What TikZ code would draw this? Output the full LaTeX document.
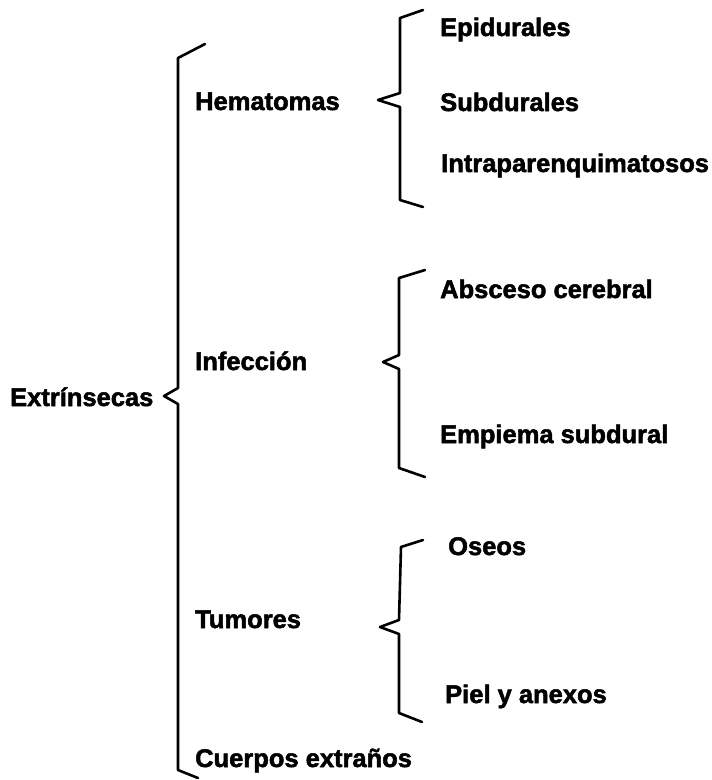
\documentclass[tikz,border=0pt]{standalone}
\usepackage{fontspec}
\setmainfont{Liberation Sans}[BoldFeatures={FakeBold=2}]
\usepackage{tikz}
\usetikzlibrary{positioning,calc}

\tikzset{
  label/.style={anchor=base west, inner sep=0pt, font=\fontsize{25.5}{30}\selectfont\bfseries},
  brace/.style={line width=2.6pt, line join=round, line cap=round}
}

\begin{document}
\begin{tikzpicture}[x=1pt, y=-1pt]
  \useasboundingbox (0,0) rectangle (712,780);

  % Main brace
  \node[label] (root) at (10, 406) {Extrínsecas};
  \draw[brace] (205, 44) -- (178, 58) -- (178, 388) -- (164, 396) -- (178, 404) -- (178, 770) -- (198, 778);

  % First level
  \node[label] (hem) at (195, 110) {Hematomas};
  \node[label] (inf) at (195, 370) {Infección};
  \node[label] (tum) at (195, 628) {Tumores};
  \node[label] (cue) at (195, 767) {Cuerpos extraños};

  % Hematomas
  \draw[brace] (423, 10) -- (400, 18) -- (400, 93) -- (378, 100) -- (400, 107) -- (400, 200) -- (423, 207);
  \node[label] (epi) at (440, 36) {Epidurales};
  \node[label] (sub) at (440, 111) {Subdurales};
  \node[label] (intra) at (441, 172) {Intraparenquimatosos};

  % Infeccion
  \draw[brace] (425, 270) -- (399, 278) -- (399, 355) -- (383, 362) -- (399, 369) -- (399, 468) -- (425, 477);
  \node[label] (abs) at (440, 298) {Absceso cerebral};
  \node[label] (emp) at (440, 443) {Empiema subdural};

  % Tumores
  \draw[brace] (423, 540) -- (401, 547) -- (399, 620) -- (380, 627) -- (399, 634) -- (399, 713) -- (422, 722);
  \node[label] (ose) at (448, 555) {Oseos};
  \node[label] (piel) at (445, 703) {Piel y anexos};
\end{tikzpicture}
\end{document}
